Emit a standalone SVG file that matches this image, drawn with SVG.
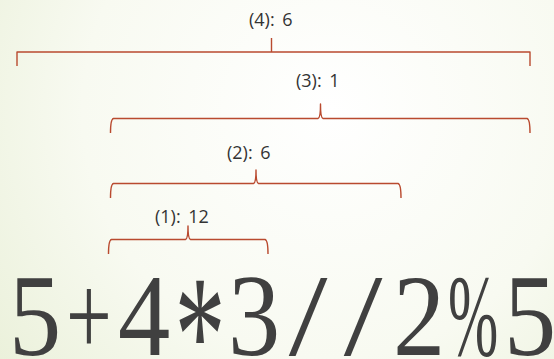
<svg xmlns="http://www.w3.org/2000/svg" width="554" height="359" viewBox="0 0 554 359">
  <defs>
    <radialGradient id="bg" cx="330" cy="110" r="450" gradientUnits="userSpaceOnUse">
      <stop offset="0" stop-color="#ffffff"/>
      <stop offset="0.55" stop-color="#f8faf1"/>
      <stop offset="1" stop-color="#e8efd6"/>
    </radialGradient>
    <style>
      .br { fill: none; stroke: #b94a2f; stroke-width: 1.4; stroke-linejoin: round; }
      .lbl { font-family: "Open Sans", "Noto Sans", sans-serif; font-size: 18px; word-spacing: 3px; fill: #333333; }
      .expr { font-family: "Liberation Serif", "DejaVu Serif", serif; font-size: 116px; fill: #404040; text-anchor: middle; }
      .ast { font-size: 170px; }
    </style>
  </defs>
  <rect x="0" y="0" width="554" height="359" fill="url(#bg)"/>

  <g id="connectors">
    <path id="br4" class="br" d="M17,66 V52 H530 V66 M271.5,52 V38"/>
    <path id="br3" class="br" d="M110.5,133 Q110.5,119 113.5,118.5 H318 Q320.5,118 320.5,104 Q320.5,118 323,118.5 H527 Q530,119 530,133"/>
    <path id="br2" class="br" d="M110.5,198 Q110.5,184 113.5,183.5 H253.5 Q256,183 256,170 Q256,183 258.5,183.5 H398 Q401,184 401,198"/>
    <path id="br1" class="br" d="M108.5,254 Q108.5,240 111.5,239.5 H185.5 Q188,239 188,226 Q188,239 190.5,239.5 H265 Q268,240 268,254"/>
  </g>

  <g id="n4"><text class="lbl" x="249" y="26">(4): 6</text></g>
  <g id="n3"><text class="lbl" x="296" y="87">(3): 1</text></g>
  <g id="n2"><text class="lbl" x="227" y="159">(2): 6</text></g>
  <g id="n1"><text class="lbl" x="155" y="223">(1): 12</text></g>

  <g id="expression">
    <text class="expr" transform="translate(35,355) scale(0.9,1)">5</text>
    <text class="expr" transform="translate(89,355) scale(0.7,1)">+</text>
    <text class="expr" transform="translate(144,355) scale(0.9,1)">4</text>
    <text class="expr ast" transform="translate(200,392) scale(0.6,1)">*</text>
    <text class="expr" transform="translate(254,355) scale(0.9,1)">3</text>
    <text class="expr" transform="translate(308,355) scale(1.2,1)">/</text>
    <text class="expr" transform="translate(363,355) scale(1.2,1)">/</text>
    <text class="expr" transform="translate(419,355) scale(0.9,1)">2</text>
    <text class="expr" transform="translate(473,355) scale(0.52,1)">%</text>
    <text class="expr" transform="translate(530,355) scale(0.9,1)">5</text>
  </g>
</svg>
